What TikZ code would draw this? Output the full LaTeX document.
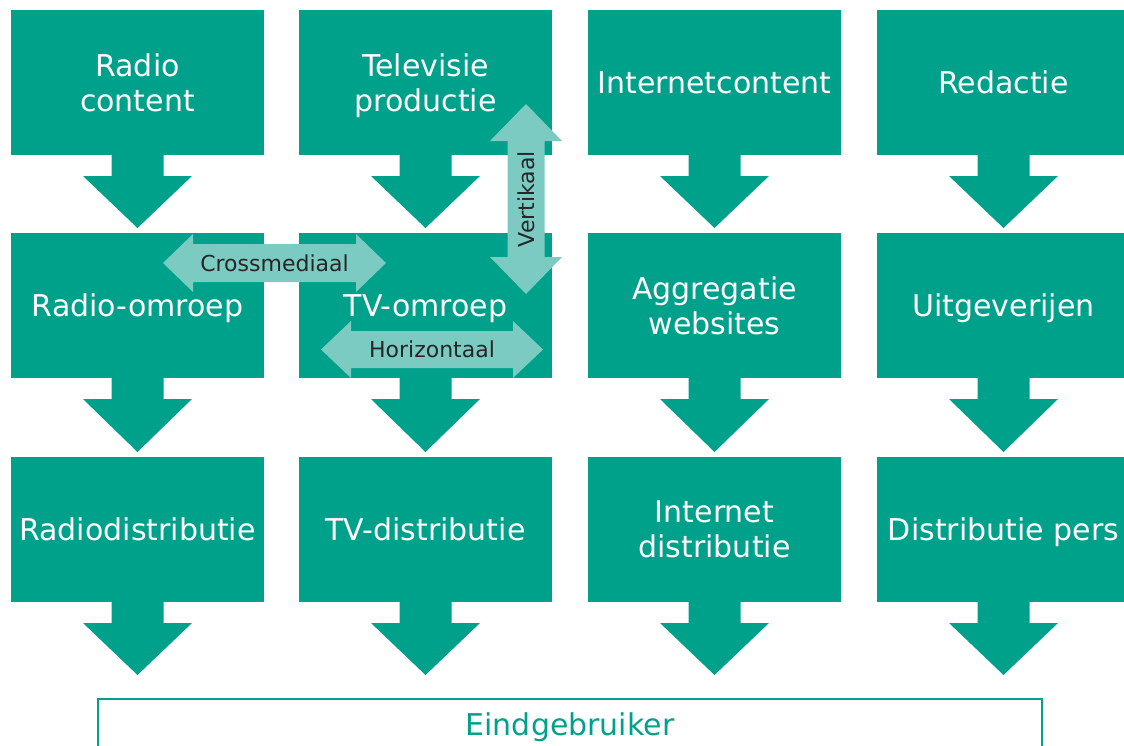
\documentclass[tikz,border=0pt]{standalone}
\usepackage{fontspec}
\setmainfont{DejaVu Sans}
\usetikzlibrary{calc}

\definecolor{mediagreen}{HTML}{00A18A}
\definecolor{pale}{HTML}{7CCBC2}
\definecolor{ink}{HTML}{262626}

\tikzset{
  mediabox/.style={fill=mediagreen,text=white,minimum width=253,minimum height=145,
    inner sep=0,outer sep=0,align=center,text depth=0pt,font=\fontsize{30}{35}\selectfont},
  enduser/.style={draw=mediagreen,line width=2,text=mediagreen,minimum width=944,
    minimum height=56,inner sep=0,font=\fontsize{30}{35}\selectfont},
  flowarrow/.style={fill=mediagreen},
  axislabel/.style={text=ink,inner sep=0,font=\fontsize{22}{26}\selectfont}
}

% block arrow below a box, tip #1 above the next one
\newcommand{\feed}[3][5]{%
  \fill[flowarrow] ($(#2.south)+(-26,0)$) -- ($(#2.south)+(-26,21)$) -- ($(#2.south)+(-54.5,21)$)
    -- ($(#2.south |- #3.north)+(0,-#1)$)
    -- ($(#2.south)+(54.5,21)$) -- ($(#2.south)+(26,21)$) -- ($(#2.south)+(26,0)$) -- cycle;}

% double block arrow: centre, half length, half shaft, half head, head length
\newcommand{\bothways}[6][]{%
  \fill[pale,shift={(#2)},#1] (-#3,0) -- (-#3+#6,-#5) -- (-#3+#6,-#4) -- (#3-#6,-#4)
    -- (#3-#6,-#5) -- (#3,0) -- (#3-#6,#5) -- (#3-#6,#4) -- (-#3+#6,#4) -- (-#3+#6,#5) -- cycle;}

\begin{document}
\begin{tikzpicture}[x=1pt,y=-1pt]
\useasboundingbox (0,0) rectangle (1124,745);
\node[mediabox] (radc) at (137.5,82.5) {Radio\\content};
\node[mediabox] (tvp) at (425.5,82.5) {Televisie\\productie};
\node[mediabox] (netc) at (714.5,82.5) {Internetcontent};
\node[mediabox] (red) at (1003.5,82.5) {Redactie};
\node[mediabox] (rado) at (137.5,305.5) {Radio-omroep};
\node[mediabox] (tvo) at (425.5,305.5) {TV-omroep};
\node[mediabox] (agg) at (714.5,305.5) {Aggregatie\\websites};
\node[mediabox] (uitg) at (1003.5,305.5) {Uitgeverijen};
\node[mediabox] (radd) at (137.5,529.5) {Radiodistributie};
\node[mediabox] (tvd) at (425.5,529.5) {TV-distributie};
\node[mediabox] (netd) at (714.5,529.5) {Internet\\distributie};
\node[mediabox] (persd) at (1003.5,529.5) {Distributie pers};
\node[enduser] (eind) at (570,727) {Eindgebruiker};
\feed{radc}{rado}
\feed{tvp}{tvo}
\feed{netc}{agg}
\feed{red}{uitg}
\feed{rado}{radd}
\feed{tvo}{tvd}
\feed{agg}{netd}
\feed{uitg}{persd}
\feed[23]{radd}{eind}
\feed[23]{tvd}{eind}
\feed[23]{netd}{eind}
\feed[23]{persd}{eind}
\coordinate (cross) at (274.5,263);
\coordinate (hor) at (432,349.5);
\coordinate (vert) at (526,199);
\bothways{cross}{111.5}{19}{29}{30}
\bothways{hor}{111}{18.5}{28.5}{30}
\bothways[rotate=90]{vert}{95}{18.5}{36}{37}
\node[axislabel] (crosst) at (cross) {Crossmediaal};
\node[axislabel] (hort) at (hor) {Horizontaal};
\node[axislabel,rotate=90] (vertt) at (vert) {Vertikaal};
\end{tikzpicture}
\end{document}
